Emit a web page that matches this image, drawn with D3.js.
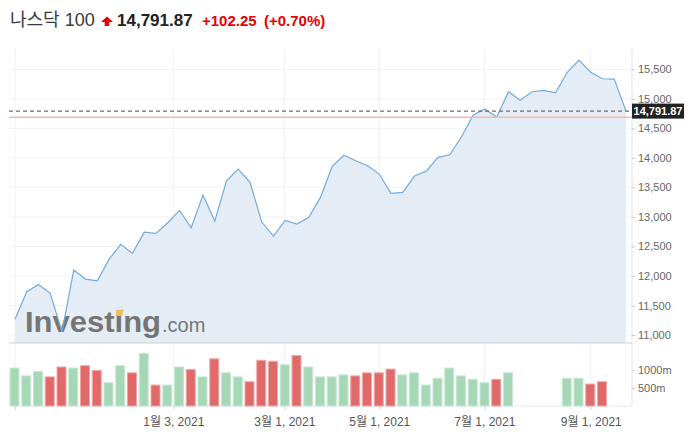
<!DOCTYPE html>
<html>
<head>
<meta charset="utf-8">
<script src="https://cdn.jsdelivr.net/npm/d3@7"></script>
<style>
  body { margin: 0; background: #fff; }
  svg { display: block; font-family: Arial, "Liberation Sans", "Noto Sans CJK KR", sans-serif; }
</style>
</head>
<body>
<svg id="chart" width="696" height="448"></svg>
<script>
// ---- data (weekly, Nasdaq 100) ----
const dates = ["2020-10-02","2020-10-09","2020-10-16","2020-10-23","2020-10-30","2020-11-06","2020-11-13","2020-11-20","2020-11-27",
  "2020-12-04","2020-12-11","2020-12-18","2020-12-25","2021-01-01","2021-01-08","2021-01-15","2021-01-22","2021-01-29",
  "2021-02-05","2021-02-12","2021-02-19","2021-02-26","2021-03-05","2021-03-12","2021-03-19","2021-03-26",
  "2021-04-02","2021-04-09","2021-04-16","2021-04-23","2021-04-30","2021-05-07","2021-05-14","2021-05-21","2021-05-28",
  "2021-06-04","2021-06-11","2021-06-18","2021-06-25","2021-07-02","2021-07-09","2021-07-16","2021-07-23","2021-07-30",
  "2021-08-06","2021-08-13","2021-08-20","2021-08-27","2021-09-03","2021-09-10","2021-09-17","2021-09-24","2021-10-01"];
const closes = [11265, 11732, 11857, 11705, 11054, 12100, 11947, 11918, 12281, 12535, 12382, 12743, 12721, 12901,
  13111, 12816, 13370, 12930, 13612, 13811, 13585, 12913, 12676, 12941, 12879, 12992, 13331, 13856, 14043,
  13951, 13866, 13726, 13399, 13416, 13692, 13775, 14009, 14053, 14358, 14725, 14827, 14691, 15120, 14974,
  15120, 15144, 15103, 15449, 15657, 15449, 15340, 15335, 14791.87];
const volumes = [1064, 841, 965, 812, 1093, 1064, 1130, 994, 646, 1130, 928, 1478, 580, 580, 1093, 1023, 812, 1325,
  928, 812, 675, 1284, 1255, 1159, 1420, 1093, 812, 812, 870, 841, 928, 928, 1034, 870, 928, 580, 773, 1064, 841,
  744, 646, 744, 928, null, null, null, null, 773, 773, 609, 675, null, null];
const priceTicks = [11000, 11500, 12000, 12500, 13000, 13500, 14000, 14500, 15000, 15500];
const volTicks = [500, 1000];
const xTickPos = [0, 13.47, 22.92, 31.0, 39.94, 49.0];
const xTickLabels = ["", "1월 3, 2021", "3월 1, 2021", "5월 1, 2021", "7월 1, 2021", "9월 1, 2021"];
const lastPrice = 14791.87;
const prevClose = 14689.62;
const titleName = "나스닥 100";
const changeText = "+102.25";
const changePctText = "(+0.70%)";

// ---- layout ----
const svg = d3.select("#chart");
const plotL = 9, plotR = 632, plotTop = 49, priceBottom = 343, volBottom = 406;

const x = d3.scaleLinear().domain([0, closes.length - 1]).range([15, 626]);
const y = d3.scaleLinear().domain([11000, 15500]).range([335, 69.3]);
const yv = d3.scaleLinear().domain([0, 1000]).range([405.5, 370.3]);

const fmt = d3.format(",");
const fmt2 = d3.format(",.2f");

// horizontal grid
svg.append("g").selectAll("line").data(priceTicks).join("line")
  .attr("x1", plotL).attr("x2", plotR)
  .attr("y1", d => y(d)).attr("y2", d => y(d))
  .attr("stroke", "#f1f2f4").attr("stroke-width", 1);

// vertical grid
svg.append("g").selectAll("line").data(xTickPos).join("line")
  .attr("x1", d => x(d)).attr("x2", d => x(d))
  .attr("y1", plotTop).attr("y2", volBottom)
  .attr("stroke", "#eef0f3").attr("stroke-width", 1);

// area + line
const idx = d3.range(closes.length);
svg.append("path")
  .attr("d", d3.area().x(i => x(i)).y0(priceBottom).y1(i => y(closes[i]))(idx))
  .attr("fill", "#e4edf5");

// watermark
const wm = svg.append("g");
const wmText = wm.append("text")
  .attr("x", 25).attr("y", 332)
  .attr("font-size", 30).attr("font-weight", "bold")
  .attr("fill", "#757575")
  .attr("textLength", 136).attr("lengthAdjust", "spacingAndGlyphs")
  .text("Investing");
wm.append("text")
  .attr("x", 162).attr("y", 332)
  .attr("font-size", 20)
  .attr("fill", "#757575")
  .text(".com");
try {
  const n = wmText.node();
  const s = n.getStartPositionOfChar(6).x, e = n.getEndPositionOfChar(6).x;
  wm.append("path")
    .attr("d", `M${s + 1},${316} L${s + 2.5},${310} L${e + 0.5},${309.5} L${e - 1},${316} Z`)
    .attr("fill", "#f2bd55");
} catch (err) {}

svg.append("path")
  .attr("d", d3.line().x(i => x(i)).y(i => y(closes[i]))(idx))
  .attr("fill", "none").attr("stroke", "#74aad8").attr("stroke-width", 1.2);

// prev close line & last price dashed line
svg.append("line").attr("x1", plotL).attr("x2", plotR)
  .attr("y1", y(prevClose)).attr("y2", y(prevClose))
  .attr("stroke", "#f7b5b5").attr("stroke-width", 1.5);
svg.append("line").attr("x1", plotL).attr("x2", plotR)
  .attr("y1", y(lastPrice)).attr("y2", y(lastPrice))
  .attr("stroke", "#6b6b6b").attr("stroke-width", 1.2).attr("stroke-dasharray", "4,3");

// separators
svg.append("line").attr("x1", plotL).attr("x2", plotR)
  .attr("y1", priceBottom).attr("y2", priceBottom)
  .attr("stroke", "#cdd1d6").attr("stroke-width", 1.2);
svg.append("line").attr("x1", plotL).attr("x2", plotR)
  .attr("y1", volBottom).attr("y2", volBottom)
  .attr("stroke", "#e6e9ee").attr("stroke-width", 1);

// volume bars
const bw = 9;
svg.append("g").selectAll("rect")
  .data(idx.filter(i => volumes[i] != null)).join("rect")
  .attr("x", i => x(i) - bw / 2 - 0.5)
  .attr("y", i => yv(volumes[i]))
  .attr("width", bw)
  .attr("height", i => volBottom - yv(volumes[i]))
  .attr("fill", i => (i === 0 || closes[i] >= closes[i - 1]) ? "#a6d7b6" : "#e06a6a")
  .attr("stroke", i => (i === 0 || closes[i] >= closes[i - 1]) ? "#c8e8d2" : "#f2a5a5")
  .attr("stroke-width", 1);

// right axis
svg.append("line").attr("x1", plotR).attr("x2", plotR)
  .attr("y1", plotTop).attr("y2", volBottom)
  .attr("stroke", "#dfe4ea").attr("stroke-width", 1);
const ra = svg.append("g").attr("transform", `translate(${plotR},0)`)
  .call(d3.axisRight(y).tickValues(priceTicks).tickFormat(fmt).tickSize(3).tickPadding(3));
ra.select(".domain").remove();
ra.selectAll(".tick line").attr("stroke", "#c8c8c8");
ra.selectAll("text").attr("fill", "#666").attr("font-size", 11)
  .attr("font-family", "Arial, 'Liberation Sans', sans-serif");

const va = svg.append("g").attr("transform", `translate(${plotR},0)`)
  .call(d3.axisRight(yv).tickValues(volTicks).tickFormat(d => d + "m").tickSize(3).tickPadding(3));
va.select(".domain").remove();
va.selectAll(".tick line").attr("stroke", "#c8c8c8");
va.selectAll("text").attr("fill", "#666").attr("font-size", 11)
  .attr("font-family", "Arial, 'Liberation Sans', sans-serif");

// last price label
const lp = svg.append("g").attr("transform", `translate(${plotR},${y(lastPrice)})`);
lp.append("rect").attr("x", 0).attr("y", -7.5).attr("width", 52).attr("height", 15).attr("fill", "#222");
lp.append("text").attr("x", 26).attr("y", 0.5).attr("dy", "0.35em")
  .attr("text-anchor", "middle").attr("fill", "#fff").attr("font-size", 11).attr("font-weight", "bold")
  .text(fmt2(lastPrice));

// x axis
const xa = svg.append("g").attr("transform", `translate(0,${volBottom})`)
  .call(d3.axisBottom(x).tickValues(xTickPos).tickFormat((d, i) => xTickLabels[i]).tickSize(4).tickPadding(7));
xa.select(".domain").remove();
xa.selectAll(".tick line").attr("stroke", "#d5d9de");
xa.selectAll("text").attr("fill", "#555").attr("font-size", 12)
  .attr("font-family", "Arial, 'Liberation Sans', 'Noto Sans CJK KR', sans-serif");

// title
const t = svg.append("g");
t.append("text").attr("x", 10).attr("y", 26).attr("font-size", 18).attr("fill", "#3a3a3a").text(titleName);
t.append("path")
  .attr("d", "M107,16.5 L113,22 L109.3,22 L109.3,26 L104.7,26 L104.7,22 L101,22 Z")
  .attr("fill", "#e60000");
t.append("text").attr("x", 117).attr("y", 26).attr("font-size", 17).attr("font-weight", "bold")
  .attr("fill", "#222").text(fmt2(lastPrice));
t.append("text").attr("x", 202).attr("y", 26).attr("font-size", 15).attr("font-weight", "bold")
  .attr("fill", "#e60000").text(changeText);
t.append("text").attr("x", 264).attr("y", 26).attr("font-size", 15).attr("font-weight", "bold")
  .attr("fill", "#e60000").text(changePctText);
</script>
</body>
</html>
